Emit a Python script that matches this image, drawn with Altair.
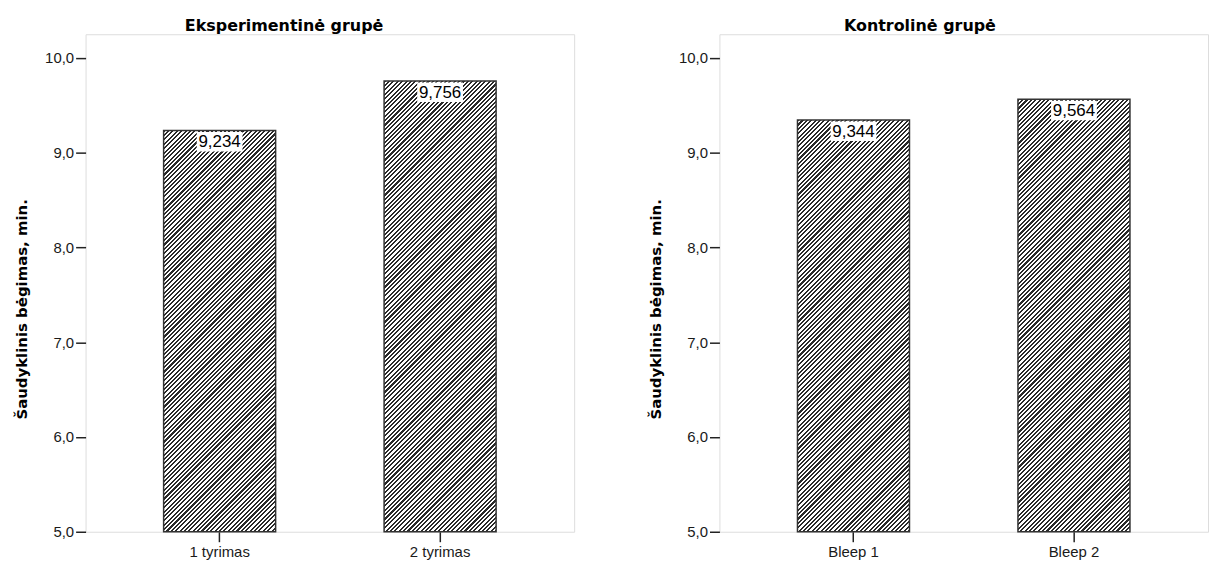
import altair as alt
import pandas as pd
import numpy as np

# ---- data ----
panel_titles = ["Eksperimentinė grupė", "Kontrolinė grupė"]
exp_categories = ["1 tyrimas", "2 tyrimas"]
exp_values = [9.234, 9.756]
ctrl_categories = ["Bleep 1", "Bleep 2"]
ctrl_values = [9.344, 9.564]
y_ticks = [5.0, 6.0, 7.0, 8.0, 9.0, 10.0]
y_title = "Šaudyklinis bėgimas, min."

# ---- layout / style ----
Y_DOMAIN = [5.0, 10.25]
PLOT_W = 491
PLOT_H = 500
P_INNER = 0.492
P_OUTER = 0.354
STEP = PLOT_W / (2 - P_INNER + 2 * P_OUTER)
BAND_W = STEP * (1 - P_INNER)
DARK = "#2a2a2a"


def hatch(value, period=4.4, frac=0.48):
    """Diagonal '/' hatch built as a striped linear gradient for one bar."""
    h = (value - Y_DOMAIN[0]) / (Y_DOMAIN[1] - Y_DOMAIN[0]) * PLOT_H
    w = BAND_W
    s = (1 / h + 1 / w) / (1 / h ** 2 + 1 / w ** 2)
    x2, y2 = s / h, s / w
    n = (w + h) / period
    stops = []
    for i in range(int(np.ceil(n))):
        a, b, c = i / n, (i + frac) / n, (i + 1) / n
        if a > 1:
            break
        stops += [
            alt.GradientStop(offset=min(a, 1.0), color=DARK),
            alt.GradientStop(offset=min(b, 1.0), color=DARK),
            alt.GradientStop(offset=min(b, 1.0), color="white"),
            alt.GradientStop(offset=min(c, 1.0), color="white"),
        ]
    return alt.LinearGradient(gradient="linear", x1=0, y1=0, x2=x2, y2=y2, stops=stops)


def panel(title, cats, vals, dx):
    df = pd.DataFrame({"cat": cats, "v": vals})
    x_enc = alt.X(
        "cat:N",
        sort=cats,
        scale=alt.Scale(paddingInner=P_INNER, paddingOuter=P_OUTER),
        axis=alt.Axis(
            title=None, labelAngle=0, domain=False, ticks=True, tickSize=10,
            tickWidth=1.5, tickColor="#222222", labelPadding=3,
            labelFont="Liberation Sans", labelFontSize=15, labelColor="#1a1a1a",
        ),
    )
    y_enc = alt.Y(
        "v:Q",
        scale=alt.Scale(domain=Y_DOMAIN, nice=False, zero=False),
        axis=alt.Axis(
            title=y_title, values=y_ticks, grid=False, domain=False,
            tickSize=10, tickWidth=1.5, tickColor="#222222", labelPadding=2,
            labelExpr="replace(format(datum.value, '.1f'), '.', ',')",
            labelFont="Liberation Sans", labelFontSize=15, labelColor="#1a1a1a",
            titleFont="DejaVu Sans", titleFontSize=15, titleFontWeight="bold",
            titleColor="#000000", titleX=-59, titleY=276, titleBaseline="alphabetic",
            titleAngle=270,
        ),
    )
    base = alt.Chart(df).encode(x=x_enc)
    layers = []
    for c, v in zip(cats, vals):
        layers.append(
            base.transform_filter(alt.datum.cat == c)
            .mark_bar(fill=hatch(v), stroke="#333333", strokeWidth=1.5)
            .encode(y=y_enc, y2=alt.Y2(datum=Y_DOMAIN[0]))
        )
    box = base.mark_bar(fill="white", width=46, yOffset=1.5, y2Offset=21).encode(
        y=alt.Y("v:Q"), y2=alt.Y2("v:Q")
    )
    label = base.transform_calculate(
        lab="replace(format(datum.v, '.3f'), '.', ',')"
    ).mark_text(
        font="Liberation Sans", fontSize=17, color="#000000", baseline="middle", dy=12
    ).encode(y=alt.Y("v:Q"), text="lab:N")
    return alt.layer(*layers, box, label).properties(
        width=PLOT_W, height=PLOT_H,
        title=alt.TitleParams(
            title, font="DejaVu Sans", fontSize=16, fontWeight="bold", color="#000000",
            anchor="middle", frame="group", dx=dx, offset=-12.5, baseline="alphabetic",
        ),
    )


left = panel(panel_titles[0], exp_categories, exp_values, -46)
right = panel(panel_titles[1], ctrl_categories, ctrl_values, -44)

chart = (
    alt.hconcat(left, right, spacing=73)
    .properties(padding={"left": 14, "top": 16, "right": 0, "bottom": 0})
    .configure_view(stroke="#bdbdbd", strokeWidth=2)
    .configure(background="white")
)

chart.save("out.html", embed_options={"renderer": "svg", "actions": False})
